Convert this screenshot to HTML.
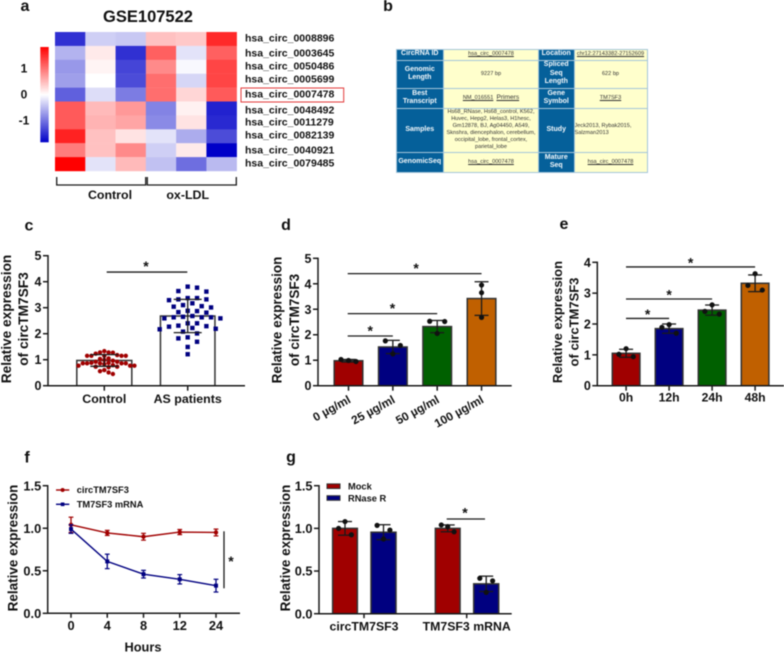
<!DOCTYPE html>
<html lang="en">
<head>
<meta charset="utf-8">
<title>circTM7SF3 figure</title>
<style>
html,body{margin:0;padding:0;background:#fff;width:784px;height:653px;overflow:hidden}
#figure{position:absolute;left:0;top:0;width:784px;height:653px;filter:blur(0.4px)}
svg{position:absolute;left:0;top:0}
svg text{font-family:"Liberation Sans",sans-serif;font-weight:bold;fill:#111}
#circ-table{position:absolute;left:395.5px;top:48.5px;width:252px;border-collapse:separate;border-spacing:1px;background:#a5c6da;table-layout:fixed;font-family:"Liberation Sans",sans-serif}
#circ-table td{padding:0;text-align:center;vertical-align:middle;background:#ffffcc;color:#333;font-size:5.6px;line-height:7px;overflow:hidden}
#circ-table td.h{background:#05609a;color:#f4f8fb;font-weight:bold;font-size:7px;line-height:8.4px}
#circ-table u{text-decoration:underline}
</style>
</head>
<body>
<div id="figure">
<svg id="chart" width="784" height="653" viewBox="0 0 784 653" xmlns="http://www.w3.org/2000/svg">
<defs>
<linearGradient id="heat-grad" x1="0" y1="0" x2="0" y2="1">
<stop offset="0" stop-color="#ff0000"/><stop offset="0.5" stop-color="#ffffff"/><stop offset="1" stop-color="#0000c8"/>
</linearGradient>
</defs>
</svg>
<table id="circ-table">
<colgroup><col style="width:46.5px"><col style="width:94px"><col style="width:34.5px"><col style="width:72px"></colgroup>
<tr style="height:10px"><td class="h">CircRNA ID</td><td><u>hsa_circ_0007478</u></td><td class="h">Location</td><td style="white-space:nowrap"><u>chr12:27143382-27152609</u></td></tr>
<tr style="height:27px"><td class="h">Genomic<br>Length</td><td>9227 bp</td><td class="h">Spliced<br>Seq<br>Length</td><td>622 bp</td></tr>
<tr style="height:19px"><td class="h">Best<br>Transcript</td><td><u>NM_016551</u> &nbsp;<u style="font-size:6.6px">Primers</u></td><td class="h">Gene<br>Symbol</td><td><u>TM7SF3</u></td></tr>
<tr style="height:43px"><td class="h">Samples</td><td>Hs68_RNase, Hs68_control, K562,<br>Huvec, Hepg2, Helas3, H1hesc,<br>Gm12878, BJ, Ag04450, A549,<br>Sknshra, diencephalon, cerebellum,<br>occipital_lobe, frontal_cortex,<br>parietal_lobe</td><td class="h">Study</td><td style="text-align:left">Jeck2013, Rybak2015,<br>Salzman2013</td></tr>
<tr style="height:19px"><td class="h">GenomicSeq</td><td><u>hsa_circ_0007478</u></td><td class="h">Mature<br>Seq</td><td><u>hsa_circ_0007478</u></td></tr>
</table>
</div>
<script>
// ---------- Panel a data ----------
const heatGenes = ['hsa_circ_0008896','hsa_circ_0003645','hsa_circ_0050486','hsa_circ_0005699','hsa_circ_0007478','hsa_circ_0048492','hsa_circ_0011279','hsa_circ_0082139','hsa_circ_0040921','hsa_circ_0079485'];
const heatValues = [
  [-1.5,-0.35,-0.4,0.45,0.4,1.55],
  [-0.55,0.15,-1.5,1.15,-0.2,1.15],
  [-0.75,0.08,-1.35,0.85,-0.05,1.35],
  [-0.7,0,-1.3,1.05,-0.3,1.35],
  [-1.15,-0.25,-0.95,1.05,0.3,1.2],
  [1.2,0.5,0.75,-0.9,0.1,-1.6],
  [1.2,0.55,0.65,-0.85,0.2,-1.55],
  [1.6,0.45,0.2,-0.2,-0.6,-1.3],
  [0.95,0.45,0.85,-0.35,0.15,-1.85],
  [1.85,-0.2,0.5,-0.45,-1.05,-0.5]
];
const heatScaleTicks = [1,0,-1];
// ---------- Panel c data ----------
const cCategories = ['Control','AS patients'];
const cTicks = [0,1,2,3,4,5];
const cMeans = [0.97,2.68];
const cSD = [0.225,0.64];
const cControl = [1.28,1.28,1.33,1.27,1.23,1.18,1.15,1.15,1.15,1.15,1.15,1.05,1.03,0.99,0.96,0.92,0.88,0.86,0.86,0.88,0.86,0.86,0.86,0.92,0.71,0.77,0.77,0.77,0.73,0.73,0.79,0.60,0.56,0.51,0.45,0.83];
const cPatients = [3.77,3.81,3.64,3.62,3.32,3.37,3.37,3.32,3.29,3.17,3.04,3.10,3.01,3.06,2.88,2.87,2.83,2.81,2.63,2.63,2.59,2.68,2.59,2.65,2.63,2.29,2.22,2.19,2.40,2.27,2.40,2.31,2.17,2.08,2.01,1.86,1.82,1.69,1.49,1.21];
const cSig = [4.37];
// ---------- Panel d data ----------
const dCategories = ['0 µg/ml','25 µg/ml','50 µg/ml','100 µg/ml'];
const dTicks = [0,1,2,3,4,5];
const dMeans = [0.98,1.52,2.32,3.42];
const dSD = [0.05,0.26,0.24,0.66];
const dDots = [[1.03,0.99,0.95],[1.76,1.25,1.58],[2.53,2.05,2.52],[3.95,3.65,2.68]];
const dDotSides = [[-1,0,1],[-1,0,1],[-1,0,1],[0,0,0]];
const dSigLevels = [1.95,2.83,4.40];
// ---------- Panel e data ----------
const eCategories = ['0h','12h','24h','48h'];
const eTicks = [0,1,2,3,4];
const eMeans = [1.05,1.85,2.45,3.32];
const eSD = [0.13,0.15,0.165,0.27];
const eDots = [[1.02,1.2,0.94],[1.89,1.98,1.70],[2.41,2.62,2.32],[3.25,3.63,3.10]];
const eSigLevels = [2.18,2.81,3.85];
// ---------- Panel f data ----------
const fHours = ['0','4','8','12','24'];
const fTicks = [0,0.5,1,1.5];
const fCirc = [1.04,0.945,0.9,0.955,0.95];
const fCircSD = [0.09,0.03,0.04,0.03,0.04];
const fMrna = [0.99,0.61,0.46,0.40,0.325];
const fMrnaSD = [0.05,0.085,0.045,0.055,0.075];
const fSeries = ['circTM7SF3','TM7SF3 mRNA'];
// ---------- Panel g data ----------
const gCategories = ['circTM7SF3','TM7SF3 mRNA'];
const gSeries = ['Mock','RNase R'];
const gTicks = [0,0.5,1,1.5];
const gMock = [1.0,1.0];
const gMockSD = [0.08,0.04];
const gRnase = [0.955,0.35];
const gRnaseSD = [0.088,0.09];
const gMockDots = [[1.0,1.08,0.925],[1.04,1.02,0.96]];
const gRnaseDots = [[1.035,0.875,0.98],[0.415,0.25,0.385]];
const gSigLevel = [1.11];

const RED='#a00000', BLUE='#000080', GREEN='#006000', ORANGE='#c06000', INK='#1a1a1a', BARLINE='#333333';
const root=document.getElementById('chart');
function mk(tag,attrs,parent,text){
  const el=document.createElementNS('http://www.w3.org/2000/svg',tag);
  for(const k in attrs) el.setAttribute(k,attrs[k]);
  if(text!==undefined) el.textContent=text;
  (parent||root).appendChild(el);
  return el;
}
function panel(name,letter,x,y){
  const g=mk('g',{},root);
  
  
  const t=mk('text',{x:x,y:y,'font-size':16,'text-anchor':'middle'},g,letter);
  
  
  return g;
}
function linear(d0,d1,r0,r1){return v=>r0+(v-d0)*(r1-r0)/(d1-d0);}
function drawLine(g,x1,y1,x2,y2,name,color,w){
  const l=mk('line',{x1:x1,y1:y1,x2:x2,y2:y2,stroke:color||INK,'stroke-width':w||1.5},g);
  
  
  return l;
}
function drawText(g,x,y,str,size,anchor,name,rot){
  const a={x:x,y:y,'font-size':size,'text-anchor':anchor||'middle'};
  if(rot!==undefined) a.transform='rotate('+rot+' '+x+' '+y+')';
  const t=mk('text',a,g,str);
  
  
  return t;
}
function yAxis(g,x,yScale,ticks,size,fmt,top){
  drawLine(g,x,yScale(ticks[0])+0.75,x,top,'y-axis-line');
  ticks.forEach(v=>{
    drawLine(g,x-5,yScale(v),x,yScale(v),'y-tick');
    drawText(g,x-6.5,yScale(v)+size*0.36,fmt?fmt(v):String(v),size,'end','y-tick-label');
  });
}
function yTitle(g,xBase,yc,lines,size,gap){
  lines.forEach((s,i)=>{
    drawText(g,xBase+i*gap,yc,s,size,'middle',i===0?'y-axis-title':'y-axis-title-line2',-90);
  });
}
function star(g,x,cy,size){
  drawText(g,x,cy+(size||14)*0.42,'*',size||14,'middle','significance-star');
}
function bar(g,xc,w,yScale,val,fill,name){
  const r=mk('rect',{x:xc-w/2,y:yScale(val),width:w,height:yScale(0)-yScale(val),fill:fill,stroke:BARLINE,'stroke-width':1.5},g);
  
  
  return r;
}
function errBar(g,xc,yScale,m,sd,cap,w){
  drawLine(g,xc,yScale(m+sd),xc,yScale(m-sd),'error-bar',INK,w||1.3);
  drawLine(g,xc-cap,yScale(m+sd),xc+cap,yScale(m+sd),'error-cap-upper',INK,w||1.3);
  drawLine(g,xc-cap,yScale(m-sd),xc+cap,yScale(m-sd),'error-cap-lower',INK,w||1.3);
}
function dot(g,x,y,r,fill){
  const c=mk('circle',{cx:x,cy:y,r:r,fill:fill||'#111'},g);
  
  
  return c;
}
function square(g,x,y,s,fill){
  const c=mk('rect',{x:x-s/2,y:y-s/2,width:s,height:s,fill:fill},g);
  
  
  return c;
}
// Beeswarm placement computed from the values themselves
function swarm(values,yScale,step,minDist){
  const placed=[];
  values.slice().sort((a,b)=>b-a).forEach(v=>{
    const y=yScale(v);
    for(let i=0;i<40;i++){
      const slot=i===0?0:(i%2?(i+1)/2:-i/2);
      const x=slot*step;
      if(!placed.some(p=>Math.hypot(p.x-x,p.y-y)<minDist)){placed.push({x:x,y:y});break;}
    }
  });
  return placed;
}

// ========== Panel a ==========
(function(){
  const g=panel('panel-a-heatmap','a',25,11);
  drawText(g,148,22,'GSE107522',16.5,'middle','heatmap-title');
  const x0=55,y0=32,cw=(236.7-55)/6,ch=(171-32)/10,vmax=1.85;
  const color=v=>{
    const t=Math.min(1,Math.abs(v)/vmax);
    const c=Math.round(255*(1-t));
    return v>=0?`rgb(255,${c},${c})`:`rgb(${c},${c},${Math.round(255-55*t)})`;
  };
  heatValues.forEach((row,i)=>{
    row.forEach((v,j)=>{
      const r=mk('rect',{x:x0+j*cw,y:y0+i*ch,width:cw+0.2,height:ch+0.2,fill:color(v)},g);
      
      
    });
  });
  const labelYs=[38,53,66,79,94,110,122,135,150,163];
  heatGenes.forEach((n,i)=>{
    drawText(g,245,labelYs[i]+3.7,n,10.5,'start','gene-label');
  });
  const box=mk('rect',{x:241,y:88,width:102.7,height:14,fill:'none',stroke:'#e23a3a','stroke-width':1},g);
  
  
  const cb=mk('rect',{x:40.3,y:47,width:8.4,height:95.3,fill:'url(#heat-grad)'},g);
  
  
  const scaleY=linear(1,-1,68,120);
  heatScaleTicks.forEach(v=>{
    drawText(g,24,scaleY(v)+4.4,v<0?'-1':String(v),12,'middle','color-scale-label');
  });
  const p1=mk('path',{d:'M56.7 177V185H145.7V177',fill:'none',stroke:INK,'stroke-width':1.3},g);
  
  
  const p2=mk('path',{d:'M147.3 177V185H236.3V177',fill:'none',stroke:INK,'stroke-width':1.3},g);
  
  
  drawText(g,110,199,'Control',12.4,'middle','control-group-label');
  drawText(g,187.7,199,'ox-LDL',12.4,'middle','ox-ldl-group-label');
})();

// ========== Panel b letter ==========
panel('panel-b-table','b',388,11);

// ========== Panel c ==========
(function(){
  const g=panel('panel-c-scatter-bar','c',29,230.7);
  const y=linear(0,5,385.7,255.7), ax=48;
  const xc=[104.3,187.7];
  bar(g,xc[0],55,y,cMeans[0],'#fff','bar-control');
  bar(g,xc[1],54.5,y,cMeans[1],'#fff','bar-as-patients');
  swarm(cControl,y,4.3,4.0).forEach(p=>dot(g,xc[0]+p.x,p.y,2.2,RED));
  swarm(cPatients,y,4.67,6.6).forEach(p=>square(g,xc[1]+p.x,p.y,4.4,BLUE));
  errBar(g,xc[0],y,cMeans[0],cSD[0],14,1.3);
  errBar(g,xc[1],y,cMeans[1],cSD[1],14,1.3);
  yAxis(g,ax,y,cTicks,12.5,null,y(5)-0.7);
  drawLine(g,ax-0.7,y(0),245,y(0),'x-axis-line');
  cCategories.forEach((c,i)=>{
    drawLine(g,xc[i],y(0),xc[i],y(0)+5,'x-tick');
    drawText(g,xc[i],403,c,12.4,'middle','x-tick-label');
  });
  yTitle(g,11,319,['Relative expression','of circTM7SF3'],13.7,17);
  cSig.forEach(v=>{
    drawLine(g,106.7,y(v),187.3,y(v),'significance-line',INK,1.3);
    star(g,146,265);
  });
})();

// ========== Panel d ==========
(function(){
  const g=panel('panel-d-dose-bars','d',286,230);
  const y=linear(0,5,385.7,258.3), ax=318;
  const fills=[RED,BLUE,GREEN,ORANGE];
  const xScale=i=>348.5+i*44.35;
  dMeans.forEach((m,i)=>{
    bar(g,xScale(i),28.6,y,m,fills[i],'bar-'+i);
    errBar(g,xScale(i),y,m,dSD[i],7,1.3);
    dDots[i].forEach((v,j)=>dot(g,xScale(i)+dDotSides[i][j]*7.5,y(v),2.6));
  });
  yAxis(g,ax,y,dTicks,12.5,null,y(5)-0.7);
  drawLine(g,ax-0.7,y(0),511.7,y(0),'x-axis-line');
  dCategories.forEach((c,i)=>{
    drawLine(g,xScale(i),y(0),xScale(i),y(0)+5,'x-tick');
    drawText(g,xScale(i)+3,402,c,11.8,'end','x-tick-label',-28.6);
  });
  yTitle(g,281.7,320,['Relative expression','of circTM7SF3'],13.5,17.3);
  dSigLevels.forEach((v,i)=>{
    const x2=xScale(i+1);
    drawLine(g,347.7,y(v),x2,y(v),'significance-line',INK,1.3);
    star(g,(347.7+x2)/2+(i===2?1.5:0),y(v)-6.5);
  });
})();

// ========== Panel e ==========
(function(){
  const g=panel('panel-e-time-bars','e',564,229);
  const y=linear(0,4,385.7,262.3), ax=597.3;
  const fills=[RED,BLUE,GREEN,ORANGE];
  const xScale=i=>626.1+i*43;
  eMeans.forEach((m,i)=>{
    bar(g,xScale(i),27.6,y,m,fills[i],'bar-'+i);
    errBar(g,xScale(i),y,m,eSD[i],7,1.3);
    eDots[i].forEach((v,j)=>dot(g,xScale(i)+(j-1)*7.2,y(v),2.6));
  });
  yAxis(g,ax,y,eTicks,12.5,null,y(4)-0.7);
  drawLine(g,ax-0.7,y(0),784,y(0),'x-axis-line');
  eCategories.forEach((c,i)=>{
    drawLine(g,xScale(i),y(0),xScale(i),y(0)+5,'x-tick');
    drawText(g,xScale(i),401.7,c,12.2,'middle','x-tick-label');
  });
  yTitle(g,562,322,['Relative expression','of circTM7SF3'],13,16.3);
  eSigLevels.forEach((v,i)=>{
    const x2=xScale(i+1);
    drawLine(g,626,y(v),x2,y(v),'significance-line',INK,1.3);
    star(g,(626+x2)/2,y(v)-5.5);
  });
})();

// ========== Panel f ==========
(function(){
  const g=panel('panel-f-time-course','f',27,462.7);
  const y=linear(0,1.5,613.3,485.7), ax=47.7;
  const xScale=i=>71+i*36.25;
  yAxis(g,ax,y,fTicks,12.8,v=>v.toFixed(1),y(1.5)-0.7);
  drawLine(g,ax-0.7,y(0),240,y(0),'x-axis-line');
  fHours.forEach((h,i)=>{
    drawLine(g,xScale(i),y(0),xScale(i),y(0)+4.5,'x-tick');
    drawText(g,xScale(i),630,h,12.8,'middle','x-tick-label');
  });
  drawText(g,143,651.7,'Hours',12.8,'middle','x-axis-title');
  yTitle(g,17.3,548,['Relative expression'],13.5,0);
  const series=[[fCirc,fCircSD,RED,'circ-line'],[fMrna,fMrnaSD,BLUE,'mrna-line']];
  series.forEach((s,k)=>{
    const pts=s[0].map((v,i)=>xScale(i)+','+y(v)).join(' ');
    const pl=mk('polyline',{points:pts,fill:'none',stroke:s[2],'stroke-width':1.4},g);
    
    
    s[0].forEach((v,i)=>{
      drawLine(g,xScale(i),y(v+s[1][i]),xScale(i),y(v-s[1][i]),'error-bar',s[2],1.3);
      drawLine(g,xScale(i)-2.4,y(v+s[1][i]),xScale(i)+2.4,y(v+s[1][i]),'error-cap-upper',s[2],1.2);
      drawLine(g,xScale(i)-2.4,y(v-s[1][i]),xScale(i)+2.4,y(v-s[1][i]),'error-cap-lower',s[2],1.2);
      if(k===0) dot(g,xScale(i),y(v),2.2,s[2]); else square(g,xScale(i),y(v),4,s[2]);
    });
  });
  drawLine(g,56,490,69.3,490,'legend-line-circ',RED,1.4);
  dot(g,62.6,490,2,RED);
  drawText(g,76.7,493.2,fSeries[0],9.3,'start','legend-label-circ');
  drawLine(g,56,504.3,69.3,504.3,'legend-line-mrna',BLUE,1.4);
  square(g,62.6,504.3,3.6,BLUE);
  drawText(g,76.7,507.5,fSeries[1],9.3,'start','legend-label-mrna');
  drawLine(g,224,531.3,224,588.3,'significance-line',INK,1.3);
  star(g,231,560);
})();

// ========== Panel g ==========
(function(){
  const g=panel('panel-g-rnase-bars','g',291,462);
  const y=linear(0,1.5,613.7,485.7), ax=319;
  const xMock=[345,447.7], xRnase=[383.5,486.2], xTick=[364,466.7];
  yAxis(g,ax,y,gTicks,12.8,v=>v.toFixed(1),y(1.5)-0.7);
  gCategories.forEach((c,i)=>{
    bar(g,xMock[i],24.7,y,gMock[i],RED,'bar-mock');
    errBar(g,xMock[i],y,gMock[i],gMockSD[i],7,1.3);
    gMockDots[i].forEach((v,j)=>dot(g,xMock[i]+(j-1)*6.4,y(v),2.6));
    bar(g,xRnase[i],25,y,gRnase[i],BLUE,'bar-rnase-r');
    errBar(g,xRnase[i],y,gRnase[i],gRnaseSD[i],7,1.3);
    gRnaseDots[i].forEach((v,j)=>dot(g,xRnase[i]+(j-1)*6.4,y(v),2.6));
    drawLine(g,xTick[i],y(0),xTick[i],y(0)+4.5,'x-tick');
    drawText(g,xTick[i],630.7,c,12.3,'middle','x-tick-label');
  });
  drawLine(g,ax-0.7,y(0),511.7,y(0),'x-axis-line');
  yTitle(g,290,548,['Relative expression'],13.5,0);
  gSeries.forEach((s,i)=>{
    const ly=[486.2,498][i];
    const r=mk('rect',{x:327,y:ly-2.3,width:13,height:4.6,fill:[RED,BLUE][i],stroke:BARLINE,'stroke-width':1},g);
    
    
    drawText(g,348,ly+3.3,s,9.3,'start','legend-label');
  });
  gSigLevel.forEach(v=>{
    drawLine(g,446.7,y(v),485,y(v),'significance-line',INK,1.3);
    star(g,465,511.7);
  });
})();
</script>
</body>
</html>
